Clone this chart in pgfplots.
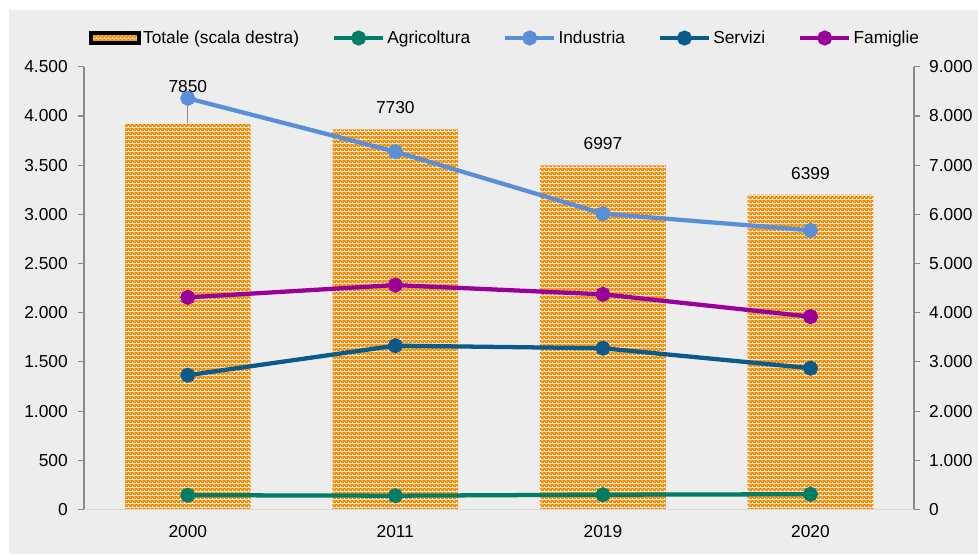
\documentclass[border=0pt]{standalone}
\usepackage{fontspec}
\setmainfont{Liberation Sans}
\usepackage{pgfplots}
\pgfplotsset{compat=1.18}
\usepackage{pgfplotstable}
\usetikzlibrary{patterns,patterns.meta}

\definecolor{bgc}{HTML}{EDEDED}
\definecolor{gridc}{HTML}{D9D9D9}
\definecolor{axc}{HTML}{8A8A8A}
\definecolor{barorange}{HTML}{F08C00}
\definecolor{agri}{HTML}{007D64}
\definecolor{indu}{HTML}{588FD8}
\definecolor{serv}{HTML}{0A5A8A}
\definecolor{fami}{HTML}{990099}

\pgfdeclarepattern{
  name=orangedots, type=colored,
  bottom left={\pgfpoint{0pt}{0pt}},
  top right={\pgfpoint{3pt}{3pt}},
  tile size={\pgfpoint{3pt}{3pt}},
  code={
    \pgfsetfillcolor{barorange}
    \pgfpathrectangle{\pgfpoint{0pt}{0pt}}{\pgfpoint{3pt}{3pt}}
    \pgfusepath{fill}
    \pgfsetfillcolor{white}
    \pgfpathrectangle{\pgfpoint{0pt}{0pt}}{\pgfpoint{0.9pt}{0.9pt}}
    \pgfpathrectangle{\pgfpoint{1.5pt}{1.5pt}}{\pgfpoint{0.9pt}{0.9pt}}
    \pgfusepath{fill}
  }
}

\pgfplotstableread{
x y lbl sh
0 7850 7850 27.6
1 7730 7730 16
2 6997 6997 16
3 6399 6399 16
}\totale

\pgfplotstableread{
x agri indu serv fami
0 145 4180 1365 2156
1 140 3637 1665 2281
2 150 3007 1639 2187
3 155 2838 1436 1960
}\lines

\begin{document}
\fontsize{13pt}{15pt}\selectfont
\begin{tikzpicture}
\useasboundingbox (0,0) rectangle (733.5pt,415.5pt);
\fill[bgc] (6.75pt,0pt) rectangle (733.5pt,408pt);

% Right axis with bars
\begin{axis}[
  at={(63pt,33.4pt)}, anchor=south west,
  scale only axis, width=622.7pt, height=332pt,
  xmin=-0.5, xmax=3.5, ymin=0, ymax=9000,
  axis y line*=right, axis x line=none,
  ytick={0,1000,...,9000},
  minor xtick={0.5,1.5,2.5},
  xminorgrids, minor grid style={draw=gridc, line width=0.9pt},
  y axis line style={draw=axc, line width=1.3pt},
  ytick style={draw=axc, line width=0.8pt},
  tick align=outside, major tick length=4pt,
  /pgf/number format/1000 sep={.},
  /pgf/number format/assume math mode=true,
  yticklabel style={anchor=west, inner sep=0pt, xshift=7pt},
  clip=false,
]
\addplot[ybar, bar width=0.606, draw=none, pattern=orangedots,
  nodes near coords, point meta=explicit symbolic,
  visualization depends on={\thisrow{sh} \as \labshift},
  every node near coord/.append style={anchor=center, yshift=\labshift pt, text=black, inner sep=0pt}
] table[x=x, y=y, meta=lbl] {\totale};
\addplot[draw=axc, line width=1pt, forget plot] coordinates {(0,7850) (0,8450)};
\end{axis}

% Left axis with lines
\begin{axis}[
  at={(63pt,33.4pt)}, anchor=south west,
  scale only axis, width=622.7pt, height=332pt,
  xmin=-0.5, xmax=3.5, ymin=0, ymax=4500,
  axis y line*=left, axis x line*=bottom,
  xtick={0,1,2,3}, xticklabels={2000,2011,2019,2020},
  ytick={0,500,...,4500},
  x axis line style={draw=gridc, line width=1.2pt},
  y axis line style={draw=axc, line width=1.3pt},
  xtick style={draw=none},
  ytick style={draw=axc, line width=0.8pt},
  tick align=outside, major tick length=4.5pt,
  /pgf/number format/1000 sep={.},
  /pgf/number format/assume math mode=true,
  yticklabel style={anchor=east, inner sep=0pt, xshift=-7.5pt},
  xticklabel style={anchor=north, inner sep=0pt, yshift=-6.9pt},
  clip=false,
  legend columns=5,
  legend style={at={(0.507,1.065)}, anchor=center, draw=none, fill=none,
    column sep=0pt,
    /tikz/every even column/.append style={column sep=23pt},
    nodes={inner sep=1.5pt}},
  legend image code/.code={\draw[mark repeat=2, mark phase=2, #1] plot coordinates {(0pt,0pt) (18.5pt,0pt) (37pt,0pt)};},
  every axis plot/.append style={line width=3.2pt, mark=*, mark size=4pt},
]
\addlegendimage{legend image code/.code={
  \fill[pattern=orangedots] (0pt,-3.5pt) rectangle (36pt,3.5pt);}}
\addlegendentry{Totale (scala destra)}
\addplot[color=agri, mark options={solid, fill=agri}] table[x=x, y=agri] {\lines};
\addlegendentry{Agricoltura}
\addplot[color=indu, mark options={solid, fill=indu}] table[x=x, y=indu] {\lines};
\addlegendentry{Industria}
\addplot[color=serv, mark options={solid, fill=serv}] table[x=x, y=serv] {\lines};
\addlegendentry{Servizi}
\addplot[color=fami, mark options={solid, fill=fami}] table[x=x, y=fami] {\lines};
\addlegendentry{Famiglie}
\end{axis}
\end{tikzpicture}
\end{document}
